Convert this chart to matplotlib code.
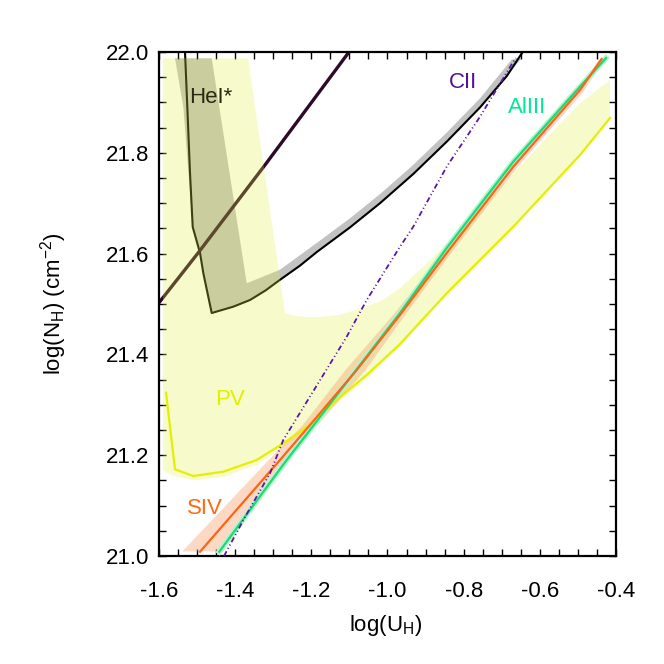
import numpy as np
import matplotlib.pyplot as plt
from matplotlib.ticker import MultipleLocator

plt.rcParams['font.family'] = ['Liberation Sans', 'DejaVu Sans']
plt.rcParams['axes.unicode_minus'] = False

# HeI* contour (black) and its uncertainty band (grey)
hei_x = [-1.5317, -1.5257, -1.5186, -1.5115, -1.4923, -1.4837, -1.4616, -1.4049, -1.3611,
         -1.3200, -1.2823, -1.2300, -1.1859, -1.0985, -1.0197, -0.9323, -0.8446, -0.7571,
         -0.6870, -0.645]
hei_y = [22.0, 21.8915, 21.760, 21.6528, 21.6012, 21.5615, 21.4821, 21.4947, 21.5079,
         21.527, 21.548, 21.576, 21.603, 21.652, 21.700, 21.758, 21.822, 21.890,
         21.952, 22.0]
hei_band_x = [-1.558, -1.4616, -1.3697, -1.2823, -1.1859, -1.0985, -1.0197, -0.9323, -0.8446,
              -0.7571, -0.6739, -0.6480, -0.6870, -0.7571, -0.8446, -0.9323, -1.0197, -1.0985,
              -1.1859, -1.2300, -1.2823, -1.3200, -1.3611, -1.4049, -1.4616, -1.4837, -1.4923,
              -1.5115, -1.5362]
hei_band_y = [21.9875, 21.9875, 21.5411, 21.568, 21.621, 21.670, 21.718, 21.776, 21.840,
              21.908, 21.985, 21.9875, 21.952, 21.890, 21.822, 21.758, 21.700, 21.652,
              21.603, 21.576, 21.548, 21.527, 21.5079, 21.4947, 21.4821, 21.5615, 21.6012,
              21.6528, 21.8915]

# dark diagonal contour
dark_x = [-1.6, -1.4968, -1.3217, -1.1011]
dark_y = [21.5026, 21.6018, 21.7758, 22.0]

# PV contour and band
pv_x = [-1.5816, -1.558, -1.5099, -1.4312, -1.3435, -1.2736, -1.2035, -1.1334, -1.0546,
        -0.9672, -0.8446, -0.6697, -0.4945, -0.4158]
pv_y = [21.324, 21.172, 21.1587, 21.1673, 21.1905, 21.2236, 21.2599, 21.3095, 21.3591,
        21.4206, 21.5212, 21.6534, 21.7956, 21.869]
pv_band_x = [-1.5895, -1.3663, -1.2691, -1.2400, -1.2050, -1.1694, -1.1300, -1.0985, -1.0550,
             -1.0118, -0.9672, -0.9000, -0.8446, -0.7600, -0.6697, -0.5800, -0.4945, -0.4158,
             -0.4158, -0.4945, -0.6697, -0.8446, -0.9672, -1.0546, -1.1334, -1.2035, -1.2736,
             -1.3435, -1.4312, -1.5099, -1.565, -1.5895]
pv_band_y = [21.9875, 21.9875, 21.4816, 21.4760, 21.4740, 21.4748, 21.4780, 21.4847, 21.4950,
             21.5079, 21.5317, 21.5780, 21.6200, 21.6870, 21.7593, 21.8310, 21.8982, 21.9444,
             21.869, 21.7956, 21.6534, 21.5212, 21.415, 21.352, 21.3025, 21.2525, 21.215,
             21.181, 21.157, 21.150, 21.16, 21.17]

# SIV contour and band
siv_x = [-1.4923, -1.3435, -1.2823, -1.2035, -1.0809, -0.9672, -0.8446, -0.6697, -0.4945, -0.4378]
siv_y = [21.0085, 21.1375, 21.1905, 21.2599, 21.369, 21.4782, 21.6012, 21.7724, 21.9246, 21.986]
siv_band_y = [21.01, 21.19, 21.26, 21.37, 21.48, 21.60, 21.77, 21.92, 21.985]
siv_band_lo = [-1.540, -1.315, -1.2245, -1.1116, -0.9856, -0.8569, -0.6783, -0.5024, -0.4473]
siv_band_hi = [-1.440, -1.2691, -1.1851, -1.0591, -0.9541, -0.8359, -0.6626, -0.4893, -0.4315]

# AlIII contour
al_x = [-1.4417, -1.2647, -1.2035, -0.9672, -0.8446, -0.6697, -0.4945, -0.4262]
al_y = [21.0085, 21.1905, 21.25, 21.4821, 21.6111, 21.7823, 21.9312, 21.988]

# CII contour
cii_x = [-1.4293, -1.3697, -1.3085, -1.2736, -1.1071, -1.0546, -0.9672, -0.9323, -0.8446,
         -0.7571, -0.6697, -0.6626]
cii_y = [21.0, 21.0833, 21.1641, 21.2302, 21.4351, 21.5079, 21.6137, 21.6534, 21.7724,
         21.8716, 21.9808, 21.988]

fig = plt.figure(figsize=(6.64, 6.64), dpi=100)
ax = fig.add_axes([159/664, 108/664, 457/664, 504/664])

ax.fill(hei_band_x, hei_band_y, color='#c2c2c2', lw=0, zorder=1)
ax.plot(hei_x, hei_y, color='black', lw=1.5, zorder=2)
ax.plot(dark_x, dark_y, color='#2c0a28', lw=2.4, zorder=2)

ax.fill(pv_band_x, pv_band_y, color='#e2f040', alpha=0.27, lw=0, zorder=3)

ax.fill_betweenx(siv_band_y, siv_band_lo, siv_band_hi, color='#f8a070', alpha=0.4, lw=0, zorder=4)
ax.plot(al_x, al_y, color='#b8f2cc', lw=4, zorder=4)

ax.plot(pv_x, pv_y, color='#e4f000', lw=1.6, zorder=5)
ax.plot(siv_x, siv_y, color='#ff6414', lw=1.6, zorder=6)
ax.plot(al_x, al_y, color='#18dc78', lw=1.6, zorder=5)
ax.plot(cii_x, cii_y, color='#5a16a6', lw=1.3, dashes=(3, 1.5, 0.6, 1.5, 0.6, 1.5), zorder=6)

ax.text(-1.465, 21.91, 'HeI*', color='#2a2a12', fontsize=16, ha='center', va='center', zorder=7)
ax.text(-1.413, 21.31, 'PV', color='#e0f000', fontsize=16, ha='center', va='center', zorder=7)
ax.text(-1.479, 21.095, 'SIV', color='#ff6a10', fontsize=16, ha='center', va='center', zorder=7)
ax.text(-0.802, 21.94, 'CII', color='#50109a', fontsize=16, ha='center', va='center', zorder=7)
ax.text(-0.634, 21.889, 'AlIII', color='#00e890', fontsize=16, ha='center', va='center', zorder=7)

ax.set_xlim(-1.6, -0.4)
ax.set_ylim(21.0, 22.0)
ax.xaxis.set_major_locator(MultipleLocator(0.2))
ax.xaxis.set_minor_locator(MultipleLocator(0.05))
ax.yaxis.set_major_locator(MultipleLocator(0.2))
ax.yaxis.set_minor_locator(MultipleLocator(0.05))
ax.xaxis.set_major_formatter(plt.FormatStrFormatter('%.1f'))
ax.yaxis.set_major_formatter(plt.FormatStrFormatter('%.1f'))
ax.tick_params(which='both', direction='in', top=True, right=True, length=5, width=1, labelsize=16)
ax.tick_params(axis='x', which='major', pad=18)
ax.tick_params(axis='y', which='major', pad=7)
for s in ax.spines.values():
    s.set_linewidth(1.6)

ax.set_xlabel(r'log(U$_\mathregular{H}$)', fontsize=16)
ax.set_ylabel(r'log(N$_\mathregular{H}$) (cm$^\mathregular{-2}$)', fontsize=16)
ax.xaxis.set_label_coords(0.495, -0.113)
ax.yaxis.set_label_coords(-0.198, 0.5)

fig.savefig('out.png', dpi=100)
